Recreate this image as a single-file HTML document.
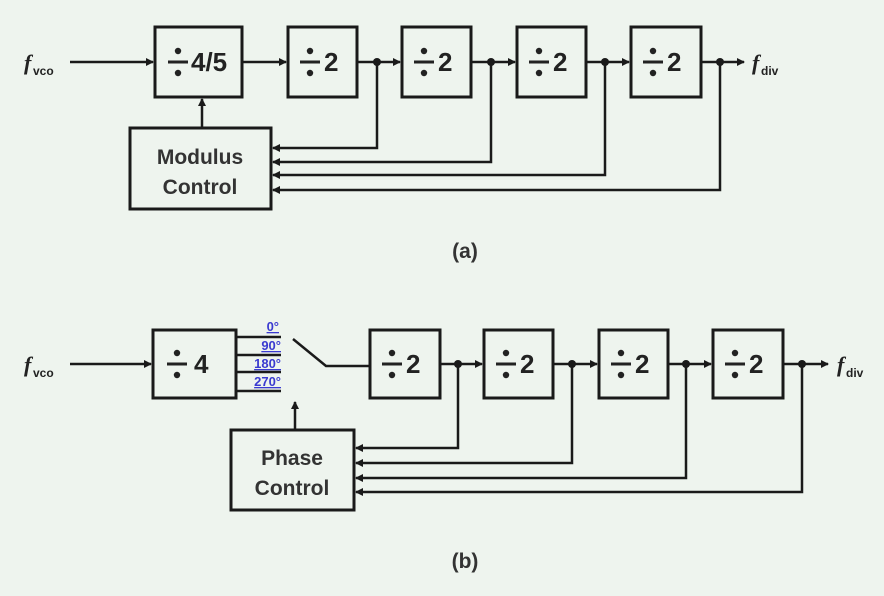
<!DOCTYPE html>
<html><head><style>
html,body{margin:0;padding:0;background:#eef4ee;}
svg{display:block;font-family:"Liberation Sans",sans-serif;}
.b{fill:none;stroke:#1a1a1a;stroke-width:3;}
.l{fill:none;stroke:#1a1a1a;stroke-width:2.5;}
.t{font-size:26px;font-weight:bold;fill:#222;}
.c{font-size:21px;font-weight:bold;fill:#333;}
.p{font-size:13px;font-weight:bold;fill:#3a3ad0;text-decoration:underline;}
</style></head><body>
<svg width="884" height="596" viewBox="0 0 884 596">
<defs>
<marker id="a" markerWidth="8" markerHeight="8" refX="7" refY="4" orient="auto" markerUnits="userSpaceOnUse"><path d="M0,0 L8,4 L0,8z" fill="#1a1a1a"/></marker>
<g id="dv"><line x1="-10" y1="0" x2="10" y2="0" stroke="#222" stroke-width="3"/><circle cx="0" cy="-11" r="3.2" fill="#222"/><circle cx="0" cy="11" r="3.2" fill="#222"/></g>
</defs>
<!-- (a) -->
<text x="24" y="70" font-size="22" font-style="italic" font-weight="bold" fill="#222" font-family="Liberation Serif">f</text><text x="33" y="75" font-size="12" font-weight="bold" fill="#222">vco</text>
<line class="l" x1="70" y1="62" x2="153" y2="62" marker-end="url(#a)"/>
<rect class="b" x="155" y="27" width="87" height="70"/>
<use href="#dv" x="178" y="62"/><text class="t" x="191" y="71">4/5</text>
<line class="l" x1="242" y1="62" x2="286" y2="62" marker-end="url(#a)"/>
<rect class="b" x="288" y="27" width="69" height="70"/><use href="#dv" x="310" y="62"/><text class="t" x="324" y="71">2</text>
<line class="l" x1="357" y1="62" x2="400" y2="62" marker-end="url(#a)"/>
<rect class="b" x="402" y="27" width="69" height="70"/><use href="#dv" x="424" y="62"/><text class="t" x="438" y="71">2</text>
<line class="l" x1="471" y1="62" x2="515" y2="62" marker-end="url(#a)"/>
<rect class="b" x="517" y="27" width="69" height="70"/><use href="#dv" x="539" y="62"/><text class="t" x="553" y="71">2</text>
<line class="l" x1="586" y1="62" x2="629" y2="62" marker-end="url(#a)"/>
<rect class="b" x="631" y="27" width="70" height="70"/><use href="#dv" x="653" y="62"/><text class="t" x="667" y="71">2</text>
<line class="l" x1="701" y1="62" x2="744" y2="62" marker-end="url(#a)"/>
<text x="752" y="70" font-size="22" font-style="italic" font-weight="bold" fill="#222" font-family="Liberation Serif">f</text><text x="761" y="75" font-size="12" font-weight="bold" fill="#222">div</text>
<g fill="#1a1a1a"><circle cx="377" cy="62" r="4"/><circle cx="491" cy="62" r="4"/><circle cx="605" cy="62" r="4"/><circle cx="720" cy="62" r="4"/></g>
<rect class="b" x="130" y="128" width="141" height="81"/>
<text class="c" x="200" y="164" text-anchor="middle">Modulus</text>
<text class="c" x="200" y="194" text-anchor="middle">Control</text>
<line class="l" x1="202" y1="128" x2="202" y2="99" marker-end="url(#a)"/>
<polyline class="l" points="377,62 377,148 273,148" marker-end="url(#a)"/>
<polyline class="l" points="491,62 491,162 273,162" marker-end="url(#a)"/>
<polyline class="l" points="605,62 605,175 273,175" marker-end="url(#a)"/>
<polyline class="l" points="720,62 720,190 273,190" marker-end="url(#a)"/>
<text class="c" x="465" y="258" text-anchor="middle">(a)</text>
<!-- (b) -->
<text x="24" y="372" font-size="22" font-style="italic" font-weight="bold" fill="#222" font-family="Liberation Serif">f</text><text x="33" y="377" font-size="12" font-weight="bold" fill="#222">vco</text>
<line class="l" x1="70" y1="364" x2="151" y2="364" marker-end="url(#a)"/>
<rect class="b" x="153" y="330" width="83" height="68"/><use href="#dv" x="177" y="364"/><text class="t" x="194" y="373">4</text>
<g class="l"><line x1="236" y1="337" x2="281" y2="337"/><line x1="236" y1="355" x2="281" y2="355"/><line x1="236" y1="372" x2="281" y2="372"/><line x1="236" y1="391" x2="281" y2="391"/></g>
<text class="p" x="279" y="331" text-anchor="end">0°</text>
<text class="p" x="281" y="350" text-anchor="end">90°</text>
<text class="p" x="281" y="368" text-anchor="end">180°</text>
<text class="p" x="281" y="386" text-anchor="end">270°</text>
<polyline class="l" points="293,339 326,366 370,366"/>
<rect class="b" x="370" y="330" width="70" height="68"/><use href="#dv" x="392" y="364"/><text class="t" x="406" y="373">2</text>
<line class="l" x1="440" y1="364" x2="482" y2="364" marker-end="url(#a)"/>
<rect class="b" x="484" y="330" width="69" height="68"/><use href="#dv" x="506" y="364"/><text class="t" x="520" y="373">2</text>
<line class="l" x1="553" y1="364" x2="597" y2="364" marker-end="url(#a)"/>
<rect class="b" x="599" y="330" width="69" height="68"/><use href="#dv" x="621" y="364"/><text class="t" x="635" y="373">2</text>
<line class="l" x1="668" y1="364" x2="711" y2="364" marker-end="url(#a)"/>
<rect class="b" x="713" y="330" width="70" height="68"/><use href="#dv" x="735" y="364"/><text class="t" x="749" y="373">2</text>
<line class="l" x1="783" y1="364" x2="828" y2="364" marker-end="url(#a)"/>
<text x="837" y="372" font-size="22" font-style="italic" font-weight="bold" fill="#222" font-family="Liberation Serif">f</text><text x="846" y="377" font-size="12" font-weight="bold" fill="#222">div</text>
<g fill="#1a1a1a"><circle cx="458" cy="364" r="4"/><circle cx="572" cy="364" r="4"/><circle cx="686" cy="364" r="4"/><circle cx="802" cy="364" r="4"/></g>
<rect class="b" x="231" y="430" width="123" height="80"/>
<text class="c" x="292" y="465" text-anchor="middle">Phase</text>
<text class="c" x="292" y="495" text-anchor="middle">Control</text>
<line class="l" x1="295" y1="430" x2="295" y2="402" marker-end="url(#a)"/>
<polyline class="l" points="458,364 458,448 356,448" marker-end="url(#a)"/>
<polyline class="l" points="572,364 572,463 356,463" marker-end="url(#a)"/>
<polyline class="l" points="686,364 686,478 356,478" marker-end="url(#a)"/>
<polyline class="l" points="802,364 802,492 356,492" marker-end="url(#a)"/>
<text class="c" x="465" y="568" text-anchor="middle">(b)</text>
</svg>
</body></html>
